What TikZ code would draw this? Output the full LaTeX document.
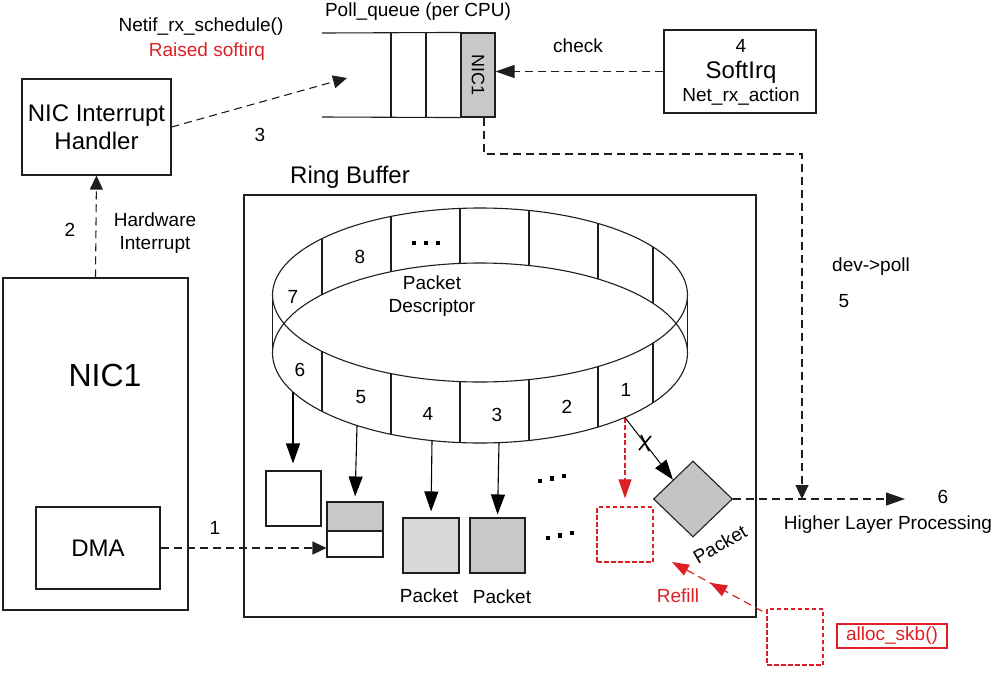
\documentclass[tikz,border=0pt]{standalone}
\usepackage{fontspec}
\setmainfont{Liberation Sans}
\usetikzlibrary{arrows.meta,calc,shapes.geometric,decorations.markings}
\definecolor{myred}{RGB}{222,32,38}
\definecolor{gA}{RGB}{200,200,200}
\definecolor{gB}{RGB}{216,216,216}
\definecolor{gC}{RGB}{196,196,196}
\definecolor{ln}{RGB}{30,30,30}
\newcommand\fsS{\fontsize{19}{22}\selectfont}
\newcommand\fsM{\fontsize{24}{28}\selectfont}
\newcommand\fsL{\fontsize{32}{36}\selectfont}
\begin{document}
\begin{tikzpicture}[x=1pt,y=-1pt,
  box/.style={draw=ln, line width=1.1pt, inner sep=0pt},
  dsh/.style={draw=ln, line width=1.1pt, dash pattern=on 8pt off 5pt},
  arr/.style={-{Triangle[length=19pt,width=13pt]}},
  sarr2/.style={-{Triangle[length=14pt,width=13pt]}},
  sarr/.style={draw=black, line width=1.1pt, -{Triangle[length=20pt,width=14pt]}},
  rdsh/.style={draw=myred, line width=1.3pt, dash pattern=on 4.5pt off 2.5pt},
  rarr/.style={draw=myred, line width=1.2pt, dash pattern=on 8pt off 5pt},
  ringln/.style={draw=ln, line width=1.1pt},
  lbl/.style={font=\fsS, inner sep=0pt}]
\fill[white] (0,0) rectangle (994,694);
\useasboundingbox (0,0) rectangle (994,694);

% ---------- NIC interrupt handler ----------
\node[box, minimum width=149pt, minimum height=96pt, align=center, font=\fsM] (handler) at (96.5,127) {NIC Interrupt\\Handler};
\node[lbl] (netif) at (201,27) {Netif\_rx\_schedule()};
\node[lbl, text=myred] (raised) at (207,52) {Raised softirq};

% ---------- NIC1 ----------
\node[box, minimum width=185pt, minimum height=332pt] (nic) at (95.5,444) {};
\node[inner sep=0pt, font=\fsL] (nictxt) at (105,375) {NIC1};
\node[box, minimum width=124pt, minimum height=82pt, font=\fsM] (dma) at (98,548) {DMA};
\draw[dsh, sarr2] (nic.north) -- (handler.south);
\node[lbl] (l2) at (70,230) {2};
\node[lbl, align=center] (hw) at (155,233) {Hardware\\[1pt]Interrupt};

% ---------- Poll queue ----------
\node[lbl] (pq) at (418,12) {Poll\_queue (per CPU)};
\node[box, fill=gA, minimum width=34pt, minimum height=84pt] (nicq) at (478,75) {};
\node[inner sep=0pt, font=\fontsize{18}{20}\selectfont, rotate=-90] (nicqt) at (nicq) {NIC1};
\draw[ringln] (322,33) -- (nicq.north west);
\draw[ringln] (322,117) -- (nicq.south west);
\draw[ringln] (391,33) -- (391,117);
\draw[ringln] (426,33) -- (426,117);
\coordinate (q3) at (347,78);
\draw[dsh, sarr2] (handler.east) -- (q3);
\node[lbl] (l3) at (260,135) {3};

% ---------- SoftIrq ----------
\node[box, minimum width=152pt, minimum height=83pt] (soft) at (740,71.5) {};
\node[lbl] (s4) at (741,46) {4};
\node[inner sep=0pt, font=\fsM] (s5) at (741,72) {SoftIrq};
\node[lbl] (s6) at (741,97) {Net\_rx\_action};
\draw[dsh, arr] (soft.west) -- (soft.west -| nicq.east);
\node[lbl] (chk) at (578,46) {check};

% ---------- Ring buffer ----------
\node[box, minimum width=512pt, minimum height=422pt] (ring) at (500,406) {};
\node[inner sep=0pt, font=\fsM] (rbl) at (350,177) {Ring Buffer};
\draw[ringln] (480,295) ellipse [x radius=207.5pt, y radius=87pt];
\draw[ringln] (480,353) ellipse [x radius=207.5pt, y radius=90pt];
\draw[ringln] (272.5,295) -- (272.5,353);
\draw[ringln] (687.5,295) -- (687.5,353);
\foreach \xx in {322,391,460,529,598,653}{
  \pgfmathsetmacro{\ss}{sqrt(1-((\xx-480)/207.5)^2)}
  \draw[ringln] (\xx,{295-87*\ss}) -- (\xx,{353-90*\ss});
  \draw[ringln] (\xx,{295+87*\ss}) -- (\xx,{353+90*\ss});
}
\node[lbl] at (293,297) {7};
\node[lbl] at (360,257) {8};
\foreach \xx in {414,426,438}{\fill[shift={(\xx,243)}] (-2.3,-2.3) rectangle (2.3,2.3);}
\node[lbl, align=center] (pd) at (432,296) {Packet\\[1pt]Descriptor};
\node[lbl] at (300,370) {6};
\node[lbl] at (361,397) {5};
\node[lbl] at (428,414) {4};
\node[lbl] at (497,415) {3};
\node[lbl] at (567,407) {2};
\node[lbl] at (626,390) {1};

\coordinate (r6) at (293,392);
\coordinate (r5) at (357,425.5);
\coordinate (r4) at (432,440.6);
\coordinate (r3) at (499,442.6);
\coordinate (r1) at (625,417.5);

% buffers
\node[box, fill=white, minimum width=55pt, minimum height=55pt] (b1) at (293.5,498.5) {};
\node[box, fill=gA, minimum width=56pt, minimum height=29pt] (b2t) at (355,516.5) {};
\node[box, fill=white, minimum width=56pt, minimum height=26pt] (b2b) at (355,544) {};
\node[box, fill=gB, minimum width=56pt, minimum height=55pt] (b3) at (431,545.5) {};
\node[box, fill=gA, minimum width=55pt, minimum height=55pt] (b4) at (497.5,545.5) {};
\node[lbl] (p3) at (429,596) {Packet};
\node[lbl] (p4) at (502,597) {Packet};
\draw[sarr, shorten >=7pt] (r6) -- (r6 |- b1.north);
\draw[sarr, shorten >=5pt] (r5) -- (b2t.north);
\draw[sarr, shorten >=6pt] (r4) -- (b3.north);
\draw[sarr, shorten >=3pt] (r3) -- (b4.north);
\foreach \xx/\yy in {540/481,552/478.5,564/476, 548/538,560/535.5,572/533}{\fill[shift={(\xx,\yy)}] (-2.3,-2.3) rectangle (2.3,2.3);}

% dropped / refill
\node[rdsh, minimum width=56pt, minimum height=55pt, inner sep=0pt] (rb) at (625,534.5) {};
\draw[draw=myred, line width=1.2pt, dash pattern=on 5pt off 2.5pt, -{Triangle[length=19pt,width=13pt]}, shorten >=8pt] (r1) -- (rb.north);
\node[diamond, draw=ln, line width=1.1pt, fill=gC, minimum width=79pt, minimum height=76pt, inner sep=0pt] (pk) at (693,499) {};
\draw[sarr, line width=1pt] (r1) -- (pk.north west);
\draw[line width=1.6pt] (645,443) +(-6,7) -- +(6,-7);
\draw[line width=1.6pt] (645,443) +(-4,-8) -- +(4,8);
\node[lbl, rotate=30] (pkl) at (720,544) {Packet};

% higher layer
\coordinate (hlend) at (905,499);
\coordinate (hl) at (802,499);
\coordinate (turn) at (802,154);
\draw[dsh, arr] (pk.east) -- (hlend);
\draw[dsh, sarr2] ($(nicq.south)+(6,0)$) |- (turn) -- (hl);
\node[lbl] (l6) at (943,497) {6};
\node[lbl] (hlp) at (888,525) {Higher Layer Processing};
\node[lbl] (dp) at (871,267) {dev->poll};
\node[lbl] (l5) at (844,301) {5};

% DMA arrow
\draw[dsh, sarr2] (dma.east) -- (dma.east -| b2b.west);
\node[lbl] (l1) at (215,528) {1};

% alloc
\node[rdsh, minimum width=56pt, minimum height=56pt, inner sep=0pt] (ab) at (795,637) {};
\node[draw=myred, line width=1.5pt, text=myred, font=\fsS, minimum width=110pt, minimum height=24pt, inner sep=0pt] (as) at (892,636) {alloc\_skb()};
\coordinate (rfend) at (672,562);
\draw[rarr, -{Triangle[length=17pt,width=12pt]},
  postaction={decorate, decoration={markings, mark=at position 0.58 with {\arrow[myred]{Triangle[length=17pt,width=12pt]}}}}]
  ($(ab.north west)+(-4,3)$) -- (rfend);
\node[lbl, text=myred] (rf) at (678,596) {Refill};
\end{tikzpicture}
\end{document}
